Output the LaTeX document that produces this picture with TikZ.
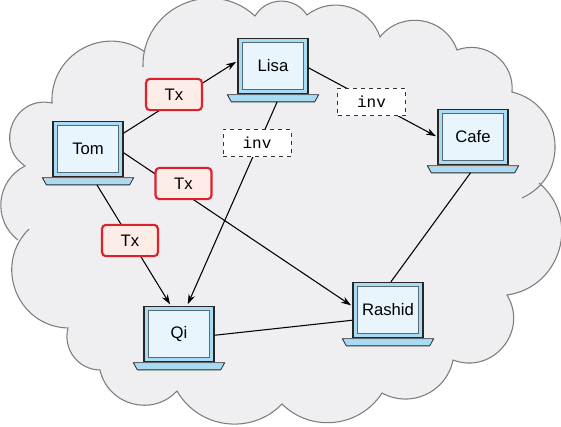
\documentclass[tikz,border=0pt]{standalone}
\usepackage{fontspec}
\setmainfont{Liberation Sans}
\setmonofont{Liberation Mono}
\usetikzlibrary{arrows.meta, positioning}
\definecolor{cloudgray}{RGB}{239,239,241}
\definecolor{cloudline}{RGB}{125,125,125}
\definecolor{screenblue}{RGB}{168,220,245}
\definecolor{screenlight}{RGB}{232,245,252}
\definecolor{screenline}{RGB}{90,105,112}
\definecolor{txred}{RGB}{222,32,44}
\definecolor{txfill}{RGB}{253,237,230}

\newcommand{\cloudoutline}[1]{
  (143,67) to[lobe=67] (255,16) to[lobe=58] (307,15) to[lobe=55] (380,37)
  to[lobe=61] (457,50) to[lobe=58] (512,92) to[lobe=71] (522,198)
  #1 (539,183) to[lobe=66] (507,295) to[lobe=71] (453,360) to[lobe=54] (382,393)
  to[lobe=51] (282,404) to[lobe=53] (177,391) to[lobe=62] (100,370)
  to[lobe=52] (68,328) to[lobe=67] (29,229)
  #1 (18,240) to[lobe=58] (25,166) to[lobe=79] (52,103) to[lobe=64] (145,52)
}

\newcommand{\laptop}[4]{
  \node[screen] (#1) at (#2,#3) {};
  \node[display] (#1label) at (#1) {#4};
  \node[keyboard, below=0.3pt of #1] (#1base) {};
  \draw[keyboardedge] (#1base.north west) -- (#1base.north east) -- ++(-3pt,-5.4pt) -| ([xshift=3pt]#1base.south west) -- cycle;
  \draw[keyboardband] ([xshift=1.2pt, yshift=-0.7pt]#1base.north west) -- ([xshift=-1.2pt, yshift=-0.7pt]#1base.north east);
}

\begin{document}
\begin{tikzpicture}[
    x=0.75pt, y=-0.75pt,
    every node/.style={font=\fontsize{12.5}{14}\selectfont},
    lobe/.code={\pgfmathsetmacro\lobeloose{(4/3)*tan(#1/2)/(2*sin(#1))/0.3915}\pgfkeysalso{bend left=#1, looseness=\lobeloose}},
    screen/.style={rectangle, draw=black!85, line width=0.9pt, fill=screenblue, minimum width=52.5pt, minimum height=41.5pt, inner sep=0pt},
    display/.style={rectangle, draw=screenline, line width=0.9pt, fill=screenlight, minimum width=46pt, minimum height=35pt, inner sep=0pt},
    keyboard/.style={rectangle, minimum width=68.5pt, minimum height=5.4pt, inner sep=0pt, outer sep=0pt},
    keyboardedge/.style={draw=black!85, line width=0.6pt, line join=round, fill=screenblue},
    keyboardband/.style={black!22, line width=0.7pt},
    txbox/.style={rectangle, rounded corners=3pt, draw=txred, line width=1.6pt, fill=txfill, minimum width=42pt, minimum height=23.5pt},
    invbox/.style={rectangle, draw=black!80, dashed, line width=0.75pt, fill=white, minimum width=51pt, minimum height=20.5pt, font=\fontsize{12}{14}\selectfont\ttfamily},
    link/.style={line width=0.8pt},
    arrow/.style={-{Stealth[length=7.5pt, width=5pt]}, line width=0.8pt, shorten >=1.2pt},
]
\useasboundingbox (0,0) rectangle (561,426);

\fill[cloudgray] \cloudoutline{--} -- cycle;
\draw[cloudline, line width=0.8pt] \cloudoutline{};

\laptop{tom}{88}{149}{Tom}
\laptop{lisa}{273}{66}{Lisa}
\laptop{cafe}{473}{137}{Cafe}
\laptop{qi}{179}{334}{Qi}
\laptop{rashid}{388}{310}{Rashid}

\draw[arrow] (tom.24) -- (lisa.172);
\draw[arrow] (tom.-6) -- (rashid.174);
\draw[arrow] (tombase.-22) -- (qi.106);
\draw[arrow] (lisabase.-41) -- (qi.74);
\draw[arrow] (lisa.-3) -- (cafe.180);
\draw[link] (cafebase.-125) -- (rashid.84);
\draw[link] (qi.-2) -- (rashid.196);

\node[txbox] (txlisa) at (174,94.5) {Tx};
\node[txbox] (txrashid) at (183.5,183.5) {Tx};
\node[txbox] (txqi) at (130,240.5) {Tx};
\node[invbox] (invcafe) at (371.5,102) {inv};
\node[invbox] (invqi) at (257,143) {inv};

\end{tikzpicture}
\end{document}
